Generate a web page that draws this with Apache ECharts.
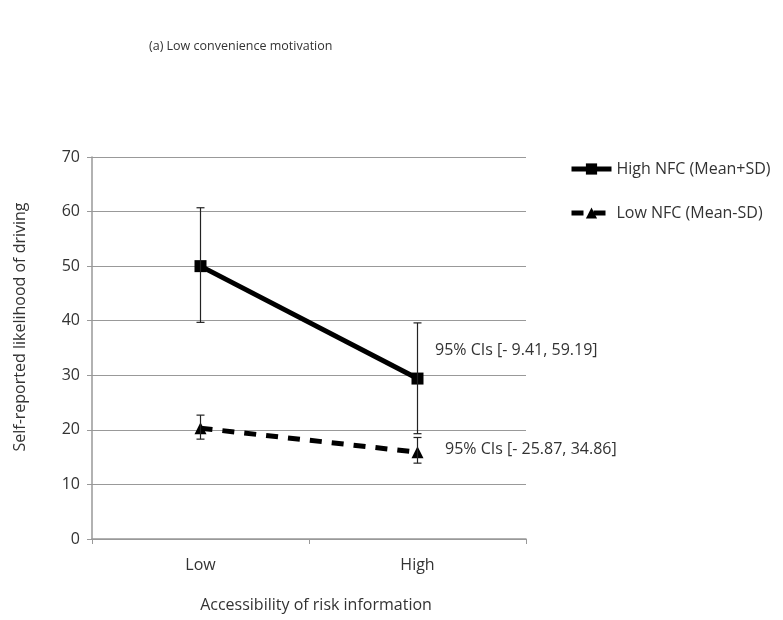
<!DOCTYPE html>
<html>
<head>
<meta charset="utf-8">
<script src="https://cdn.jsdelivr.net/npm/echarts@6/dist/echarts.min.js"></script>
<style>html,body{margin:0;padding:0;background:#fff;}#c{width:783px;height:620px;}</style>
</head>
<body>
<div id="c"></div>
<script>
const categories = ['Low', 'High'];
const highNFC = [50.0, 29.4];
const highNFCLow = [39.7, 19.3];
const highNFCHigh = [60.7, 39.6];
const lowNFC = [20.3, 15.9];
const lowNFCLow = [18.3, 13.9];
const lowNFCHigh = [22.7, 18.6];
const yTicks = [0, 70, 10];
const annotations = ['95% CIs [- 9.41, 59.19]', '95% CIs [- 25.87, 34.86]'];
const yAxisTitle = 'Self-reported likelihood of driving';
const xAxisTitle = 'Accessibility of risk information';

const FONT = '"Open Sans", "Liberation Sans", sans-serif';
const FS = 16;
const TXT = '#333';
const chart = echarts.init(document.getElementById('c'));

function errData(lo, hi) { return categories.map((c, i) => [i, lo[i], hi[i]]); }
function errRender(params, api) {
  const x = api.value(0);
  const lo = api.coord([x, api.value(1)]);
  const hi = api.coord([x, api.value(2)]);
  const w = 4;
  const st = { stroke: '#222', lineWidth: 1.2 };
  return { type: 'group', children: [
    { type: 'line', shape: { x1: lo[0], y1: lo[1], x2: hi[0], y2: hi[1] }, style: st },
    { type: 'line', shape: { x1: lo[0]-w, y1: lo[1], x2: lo[0]+w, y2: lo[1] }, style: st },
    { type: 'line', shape: { x1: hi[0]-w, y1: hi[1], x2: hi[0]+w, y2: hi[1] }, style: st }
  ]};
}

chart.setOption({
  animation: false,
  textStyle: { fontFamily: FONT },
  title: { text: '(a) Low convenience motivation', left: 144, top: 35,
    textStyle: { fontFamily: FONT, fontSize: 12.5, fontWeight: 'normal', color: TXT } },
  legend: {
    orient: 'vertical', left: 569, top: 161, padding: 0, itemGap: 28, itemWidth: 40, itemHeight: 14,
    lineStyle: { width: 5 },
    textStyle: { fontFamily: FONT, fontSize: FS, color: TXT },
    data: ['High NFC (Mean+SD)', 'Low NFC (Mean-SD)']
  },
  grid: { left: 92, right: 257, top: 157, bottom: 81, containLabel: false },
  xAxis: {
    type: 'category', data: categories, boundaryGap: true,
    axisLine: { lineStyle: { color: '#999', width: 1.5 } },
    axisTick: { show: true, length: 5, lineStyle: { color: '#999' } },
    axisLabel: { fontFamily: FONT, fontSize: FS, color: TXT, margin: 18 }
  },
  yAxis: {
    type: 'value', min: yTicks[0], max: yTicks[1], interval: yTicks[2],
    axisLine: { show: true, lineStyle: { color: '#999', width: 1.5 } },
    axisTick: { show: true, length: 5, lineStyle: { color: '#999' } },
    axisLabel: { fontFamily: FONT, fontSize: FS, color: TXT, margin: 12 },
    splitLine: { lineStyle: { color: '#999', width: 1 } }
  },
  series: [
    { name: 'High NFC (Mean+SD)', type: 'line', data: highNFC, symbol: 'rect', symbolSize: 12,
      lineStyle: { color: '#000', width: 5 }, itemStyle: { color: '#000' }, z: 3 },
    { name: 'Low NFC (Mean-SD)', type: 'line', data: lowNFC, symbol: 'triangle', symbolSize: 12,
      lineStyle: { color: '#000', width: 5, type: [12, 10] }, itemStyle: { color: '#000' }, z: 3 },
    { type: 'custom', renderItem: errRender, data: errData(highNFCLow, highNFCHigh), z: 4, silent: true },
    { type: 'custom', renderItem: errRender, data: errData(lowNFCLow, lowNFCHigh), z: 4, silent: true }
  ],
  graphic: [
    { type: 'text', left: 435, top: 342, style: { text: annotations[0], font: FS + 'px ' + FONT, fill: TXT } },
    { type: 'text', left: 445, top: 441, style: { text: annotations[1], font: FS + 'px ' + FONT, fill: TXT } },
    { type: 'text', x: 20, y: 327, rotation: Math.PI / 2,
      style: { text: yAxisTitle, font: FS + 'px ' + FONT, fill: TXT, align: 'center', verticalAlign: 'middle' } },
    { type: 'text', x: 316, y: 605,
      style: { text: xAxisTitle, font: FS + 'px ' + FONT, fill: TXT, align: 'center', verticalAlign: 'middle' } }
  ]
});
</script>
</body>
</html>
